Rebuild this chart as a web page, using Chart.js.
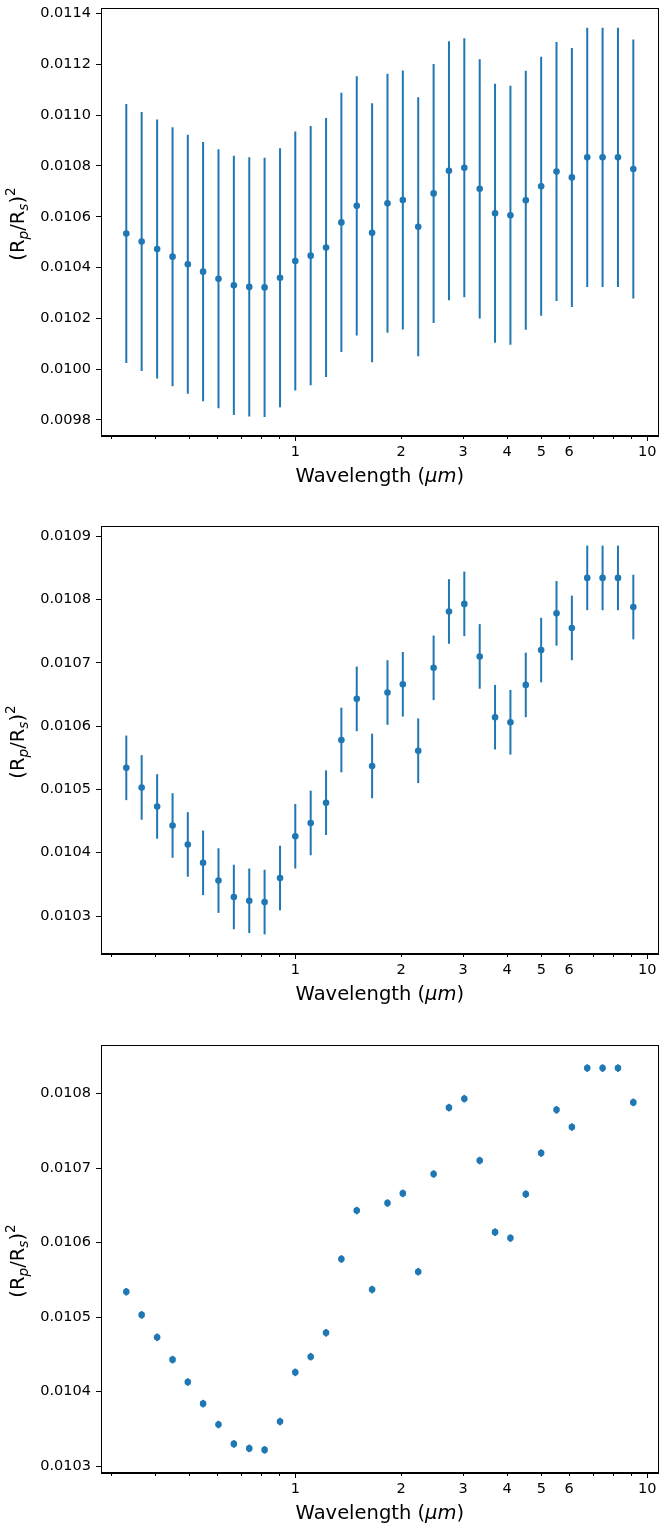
<!DOCTYPE html>
<html>
<head>
<meta charset="utf-8">
<script src="https://cdn.jsdelivr.net/npm/chart.js@4.4.1/dist/chart.umd.min.js"></script>
<style>
  body { margin: 0; background: #fff; }
  #wrap { position: relative; width: 662px; height: 1524px; }
  canvas { position: absolute; left: 0; }
</style>
</head>
<body>
<div id="wrap">
  <canvas id="painel1" width="662" height="487" style="top:0px"></canvas>
  <canvas id="painel2" width="662" height="487" style="top:518px"></canvas>
  <canvas id="painel3" width="662" height="487" style="top:1037px"></canvas>
</div>
<script>
// wavelength grid (micron)
const wavelengths = [0.331, 0.366, 0.405, 0.448, 0.495, 0.547, 0.605, 0.669, 0.740, 0.818,
                     0.905, 1.000, 1.106, 1.223, 1.352, 1.495, 1.653, 1.828, 2.021, 2.235,
                     2.472, 2.733, 3.022, 3.342, 3.695, 4.086, 4.518, 4.996, 5.524, 6.108,
                     6.754, 7.468, 8.258, 9.131];

// transit depth (Rp/Rs)^2
const depth = [0.010534, 0.010503, 0.010473, 0.010443, 0.010413, 0.010384, 0.010356, 0.010330, 0.010324, 0.010322,
               0.010360, 0.010426, 0.010447, 0.010479, 0.010578, 0.010643, 0.010537, 0.010653, 0.010666, 0.010561,
               0.010692, 0.010781, 0.010793, 0.010710, 0.010614, 0.010606, 0.010665, 0.010720, 0.010778, 0.010755,
               0.010834, 0.010834, 0.010834, 0.010788];

// one uniform error bar per panel
const errTop = 0.00051;
const errMid = 0.000051;
const errBottom = 0.0000051;

// tick labels
const yTicksTop = [0.0098, 0.0100, 0.0102, 0.0104, 0.0106, 0.0108, 0.0110, 0.0112, 0.0114];
const yTicksMid = [0.0103, 0.0104, 0.0105, 0.0106, 0.0107, 0.0108, 0.0109];
const yTicksBottom = [0.0103, 0.0104, 0.0105, 0.0106, 0.0107, 0.0108];
const xMajorTicks = [1, 10];
const xLabeledTicks = [1, 2, 3, 4, 5, 6, 10];
const xMinorTicks = [0.3, 0.4, 0.5, 0.6, 0.7, 0.8, 0.9, 2, 3, 4, 5, 6, 7, 8, 9];

const AZUL = "#1f77b4";
const FONTE = "DejaVu Sans";

// --- barras de erro verticais ---
const errorBarPlugin = {
    id: "errorBars",
    beforeDatasetsDraw(chart) {
        const { ctx, scales: { x, y } } = chart;
        const ds = chart.data.datasets[0];
        ctx.save();
        ctx.strokeStyle = AZUL;
        ctx.lineWidth = 2;
        ds.data.forEach(p => {
            const px = x.getPixelForValue(p.x);
            ctx.beginPath();
            ctx.moveTo(px, y.getPixelForValue(p.y - ds.erro));
            ctx.lineTo(px, y.getPixelForValue(p.y + ds.erro));
            ctx.stroke();
        });
        ctx.restore();
    }
};

// --- moldura, ticks menores e titulos dos eixos ---
const framePlugin = {
    id: "frame",
    afterDraw(chart) {
        const { ctx, chartArea: a, scales: { x } } = chart;
        ctx.save();
        ctx.strokeStyle = "#000";
        ctx.lineWidth = 1;
        ctx.strokeRect(Math.round(a.left) + 0.5, Math.round(a.top) + 0.5,
                       Math.round(a.right - a.left) - 1, Math.round(a.bottom - a.top) - 1);

        // minor ticks
        xMinorTicks.forEach(v => {
            const px = Math.round(x.getPixelForValue(v)) + 0.5;
            ctx.beginPath();
            ctx.moveTo(px, a.bottom);
            ctx.lineTo(px, a.bottom + 3);
            ctx.stroke();
        });

        // x label: Wavelength (μm)
        ctx.fillStyle = "#000";
        ctx.textBaseline = "alphabetic";
        const fs = 19.5;
        const partes = [
            { t: "Wavelength (", f: `${fs}px "${FONTE}"` },
            { t: "μm", f: `italic ${fs}px "${FONTE}"` },
            { t: ")", f: `${fs}px "${FONTE}"` }
        ];
        let total = 0;
        partes.forEach(p => { ctx.font = p.f; p.w = ctx.measureText(p.t).width; total += p.w; });
        let cx = (a.left + a.right) / 2 - total / 2;
        const by = a.bottom + 46;
        partes.forEach(p => { ctx.font = p.f; ctx.fillText(p.t, cx, by); cx += p.w; });

        // y label: (R_p/R_s)^2
        const ylab = [
            { t: "(", s: 1, dy: 0, it: false },
            { t: "R", s: 1, dy: 0, it: false },
            { t: "p", s: 0.7, dy: 0.2, it: true },
            { t: "/", s: 1, dy: 0, it: false },
            { t: "R", s: 1, dy: 0, it: false },
            { t: "s", s: 0.7, dy: 0.2, it: true },
            { t: ")", s: 1, dy: 0, it: false },
            { t: "2", s: 0.7, dy: -0.45, it: false }
        ];
        total = 0;
        ylab.forEach(p => {
            p.f = `${p.it ? "italic " : ""}${fs * p.s}px "${FONTE}"`;
            ctx.font = p.f;
            p.w = ctx.measureText(p.t).width;
            total += p.w;
        });
        ctx.translate(17, (a.top + a.bottom) / 2 + 2);
        ctx.rotate(-Math.PI / 2);
        let lx = -total / 2;
        ylab.forEach(p => {
            ctx.font = p.f;
            ctx.fillText(p.t, lx, fs * 0.36 + p.dy * fs);
            lx += p.w;
        });
        ctx.restore();
    }
};

function montarPainel(idCanvas, erro, yMin, yMax, yTicks) {
    const pontos = [];
    for (let i = 0; i < wavelengths.length; i++) {
        pontos.push({ x: wavelengths[i], y: depth[i] });
    }

    new Chart(document.getElementById(idCanvas), {
        type: "scatter",
        data: {
            datasets: [{
                data: pontos,
                erro: erro,
                backgroundColor: AZUL,
                borderColor: AZUL,
                borderWidth: 0,
                pointRadius: 3.3,
                pointHoverRadius: 3.3
            }]
        },
        options: {
            responsive: false,
            animation: false,
            events: [],
            layout: { padding: { top: 8, right: 2, left: 0, bottom: 0 } },
            plugins: {
                legend: { display: false },
                tooltip: { enabled: false }
            },
            scales: {
                x: {
                    type: "logarithmic",
                    min: 0.2805,
                    max: 10.78,
                    afterBuildTicks: s => { s.ticks = xLabeledTicks.map(v => ({ value: v })); },
                    afterFit: s => { s.height = 51; s.paddingLeft = 0; s.paddingRight = 0; },
                    border: { color: "#000", width: 1 },
                    grid: {
                        drawOnChartArea: false,
                        tickLength: 5,
                        tickColor: c => xMajorTicks.includes(c.tick && c.tick.value) ? "#000" : "rgba(0,0,0,0)"
                    },
                    ticks: {
                        autoSkip: false,
                        maxRotation: 0,
                        padding: 3,
                        color: "#000",
                        font: { family: FONTE, size: 14.5 },
                        callback: v => String(v)
                    }
                },
                y: {
                    min: yMin,
                    max: yMax,
                    afterBuildTicks: s => { s.ticks = yTicks.map(v => ({ value: v })); },
                    afterFit: s => { s.width = 101; s.paddingTop = 0; s.paddingBottom = 0; },
                    border: { color: "#000", width: 1 },
                    grid: { drawOnChartArea: false, tickLength: 5, tickColor: "#000" },
                    ticks: {
                        padding: 5,
                        color: "#000",
                        font: { family: FONTE, size: 14.5 },
                        callback: v => Number(v).toFixed(4)
                    }
                }
            }
        },
        plugins: [errorBarPlugin, framePlugin]
    });
}

montarPainel("painel1", errTop, 0.009737, 0.011422, yTicksTop);
montarPainel("painel2", errMid, 0.010240, 0.010916, yTicksMid);
montarPainel("painel3", errBottom, 0.010291, 0.010865, yTicksBottom);
</script>
</body>
</html>
